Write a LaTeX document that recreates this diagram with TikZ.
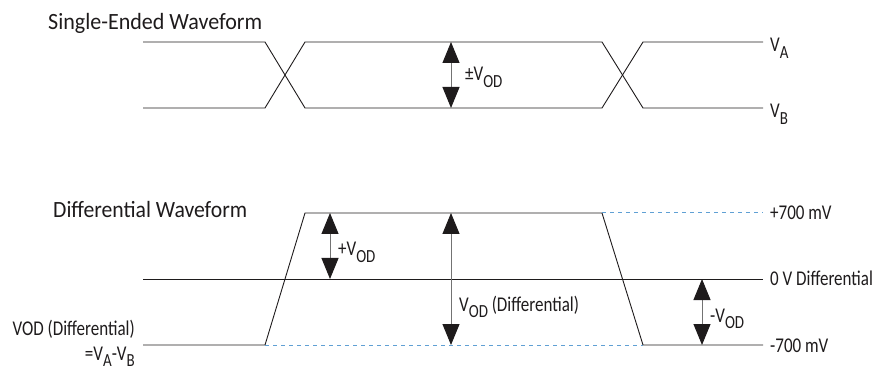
\documentclass[tikz,border=0pt]{standalone}
\usepackage{fontspec}
\usepackage{graphicx}
\setmainfont{Carlito}
\newfontfamily\labelfont[FakeStretch=0.81]{Carlito}
\usetikzlibrary{arrows.meta}
\definecolor{guideblue}{RGB}{96,160,212}
\definecolor{ink}{RGB}{30,27,28}
\newcommand{\sbx}[1]{\raisebox{-0.3em}{\fontsize{18.5}{19}\selectfont #1}}
\newcommand{\wtitle}[2]{\resizebox{#1}{\height}{\fontsize{23.3}{26}\selectfont #2}}
\begin{document}
\begin{tikzpicture}[x=1pt,y=-1pt,
  wave/.style={draw=ink, line width=0.9pt},
  guide/.style={draw=guideblue, line width=1pt, dash pattern=on 4pt off 4pt},
  dim/.style={draw=black!55, line width=1pt,
    {Triangle[length=21pt,width=17pt,color=ink]}-{Triangle[length=21pt,width=17pt,color=ink]}},
  lbl/.style={font=\labelfont\fontsize{21}{23}\selectfont, text=ink, inner sep=0pt},
  ttl/.style={text=ink, inner sep=0pt, anchor=base west}]
\useasboundingbox (0,0) rectangle (875,371);

% ---------- Single-ended ----------
\node[ttl] (t1) at (48,30) {\wtitle{214pt}{Single-Ended Waveform}};
\draw[wave] (143,42) -- (265,42) -- (305,108) -- (602,108) -- (643,42) -- (763,42);
\draw[wave] (143,108) -- (265,108) -- (305,42) -- (602,42) -- (643,108) -- (763,108);
\node[lbl, anchor=base west] (va) at (770,52) {V\sbx{A}};
\node[lbl, anchor=base west] (vb) at (770,118) {V\sbx{B}};
\coordinate (s1) at (451,42);
\coordinate (s2) at (451,108);
\draw[dim] (s1) -- (s2);
\node[lbl, anchor=base west] (pmvod) at (465,81) {±V\sbx{OD}};

% ---------- Differential ----------
\node[ttl] (t2) at (53,218) {\wtitle{194pt}{Differential Waveform}};
\draw[wave] (143,279) -- (763,279);
\draw[wave] (143,345) -- (265,345) -- (305,213) -- (602,213) -- (643,345) -- (763,345);
\draw[guide] (602,213) -- (763,213);
\draw[guide] (265,345) -- (643,345);
\node[lbl, anchor=base west] (p700) at (770,220) {+700 mV};
\node[lbl, anchor=base west] (z0) at (770,286) {0 V Differential};
\node[lbl, anchor=base west] (m700) at (770,352) {-700 mV};

\coordinate (a1) at (330,213);
\coordinate (a2) at (330,279);
\draw[dim] (a1) -- (a2);
\node[lbl, anchor=base west] (pvod) at (338,256) {+V\sbx{OD}};

\coordinate (b1) at (451,213);
\coordinate (b2) at (451,345);
\draw[dim] (b1) -- (b2);
\node[lbl, anchor=base west] (vodd) at (459,311) {V\sbx{OD} (Differential)};

\coordinate (c1) at (702,279);
\coordinate (c2) at (702,345);
\draw[dim] (c1) -- (c2);
\node[lbl, anchor=base west] (mvod) at (710,322) {-V\sbx{OD}};

\node[lbl, anchor=base east] (l1) at (135,335) {VOD (Differential)};
\node[lbl, anchor=base east] (l2) at (135,360) {=V\sbx{A}-V\sbx{B}};
\end{tikzpicture}
\end{document}
